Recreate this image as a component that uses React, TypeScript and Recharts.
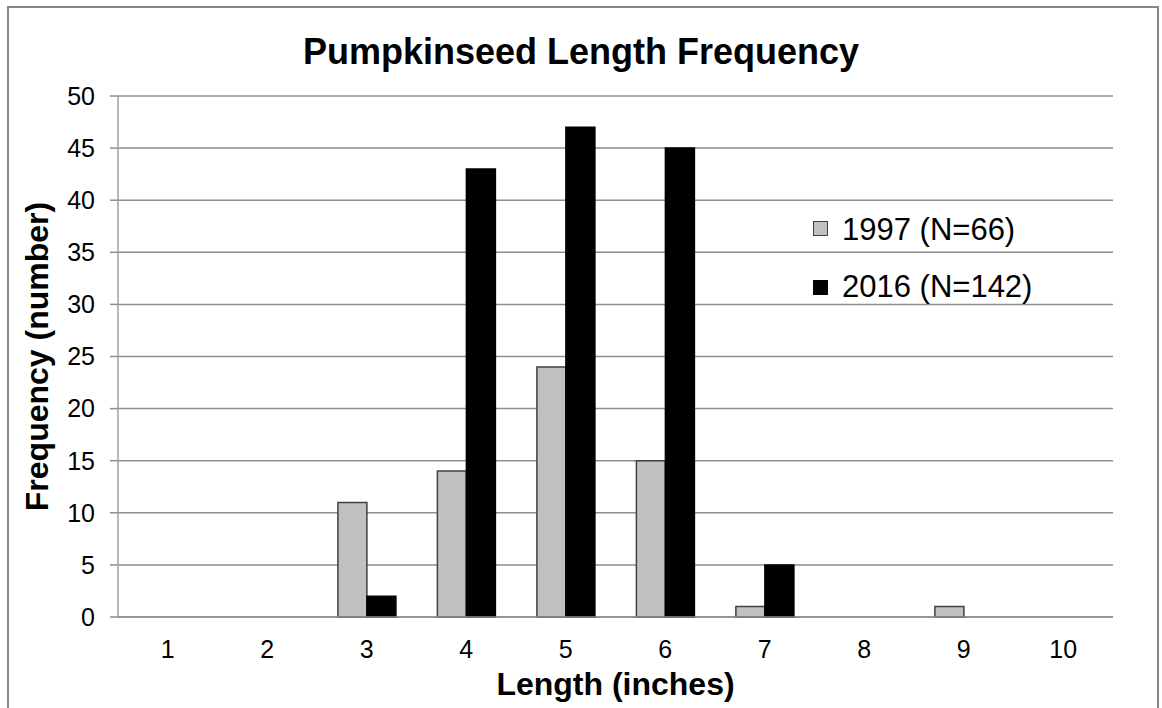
import { BarChart, Bar, XAxis, YAxis, CartesianGrid } from 'recharts'

const lengths = ['1', '2', '3', '4', '5', '6', '7', '8', '9', '10']
const counts1997 = [0, 0, 11, 14, 24, 15, 1, 0, 1, 0]
const counts2016 = [0, 0, 2, 43, 47, 45, 5, 0, 0, 0]
const yTicks = [0, 5, 10, 15, 20, 25, 30, 35, 40, 45, 50]

const seriesInfo = [
  { key: 'y1997', name: '1997 (N=66)', fill: '#c0c0c0', stroke: '#404040' },
  { key: 'y2016', name: '2016 (N=142)', fill: '#000000', stroke: '#000000' },
]

const data = lengths.map((len, i) => ({ len, y1997: counts1997[i], y2016: counts2016[i] }))

const FONT = '"Liberation Sans", Arial, sans-serif'

const YTitle = (props: any) => {
  const { viewBox } = props
  const cx = viewBox.x + 48
  const cy = viewBox.y + viewBox.height / 2
  return (
    <text x={cx} y={cy} transform={`rotate(-90, ${cx}, ${cy})`} textAnchor="middle"
      fontSize={32} fontWeight="bold" fontFamily={FONT} fill="#000">
      Frequency (number)
    </text>
  )
}

const XTitle = (props: any) => {
  const { viewBox } = props
  return (
    <text x={viewBox.x + viewBox.width / 2} y={viewBox.y + 78} textAnchor="middle"
      fontSize={32} fontWeight="bold" fontFamily={FONT} fill="#000">
      Length (inches)
    </text>
  )
}

export default function App() {
  return (
    <div style={{ position: 'absolute', left: 0, top: 0, width: 1162, height: 708, background: '#fff', overflow: 'hidden', fontFamily: FONT }}>
      <div style={{ position: 'absolute', left: 7, top: 6, width: 1152, height: 710, boxSizing: 'border-box', border: '2px solid #878787', borderBottom: 'none' }} />

      <div style={{ position: 'absolute', left: 0, width: 1162, top: 34, textAlign: 'center', fontSize: 36, lineHeight: 1, fontWeight: 'bold', color: '#000' }}>
        Pumpkinseed Length Frequency
      </div>

      <BarChart width={1162} height={708} data={data}
        margin={{ top: 96, right: 49, bottom: 61, left: 0 }}
        barCategoryGap="21%" barGap={0}>
        <CartesianGrid vertical={false} stroke="#8e8e8e" strokeWidth={1.5} />
        <XAxis dataKey="len" height={30} tickLine={false} tickSize={0} tickMargin={23}
          axisLine={{ stroke: '#8e8e8e', strokeWidth: 1.5 }}
          tick={{ fontSize: 25, fill: '#000', fontFamily: FONT }}
          label={<XTitle />} />
        <YAxis width={118} domain={[0, 50]} ticks={yTicks} interval={0}
          tickSize={8} tickMargin={15}
          axisLine={{ stroke: '#a0a0a0', strokeWidth: 1.5 }}
          tickLine={{ stroke: '#8e8e8e', strokeWidth: 1.5 }}
          tick={{ fontSize: 25, fill: '#000', fontFamily: FONT }}
          label={<YTitle />} />
        {seriesInfo.map(s => (
          <Bar key={s.key} dataKey={s.key} name={s.name} fill={s.fill} stroke={s.stroke}
            strokeWidth={1.5} isAnimationActive={false} />
        ))}
      </BarChart>

      {seriesInfo.map((s, i) => (
        <div key={s.key}>
          <div style={{ position: 'absolute', left: 813, top: 221 + i * 59, width: 15, height: 15, boxSizing: 'border-box', background: s.fill, border: `1.5px solid ${s.stroke}` }} />
          <div style={{ position: 'absolute', left: 842, top: 214 + i * 57, fontSize: 31, lineHeight: 1, color: '#000', whiteSpace: 'nowrap' }}>
            {s.name}
          </div>
        </div>
      ))}
    </div>
  )
}
